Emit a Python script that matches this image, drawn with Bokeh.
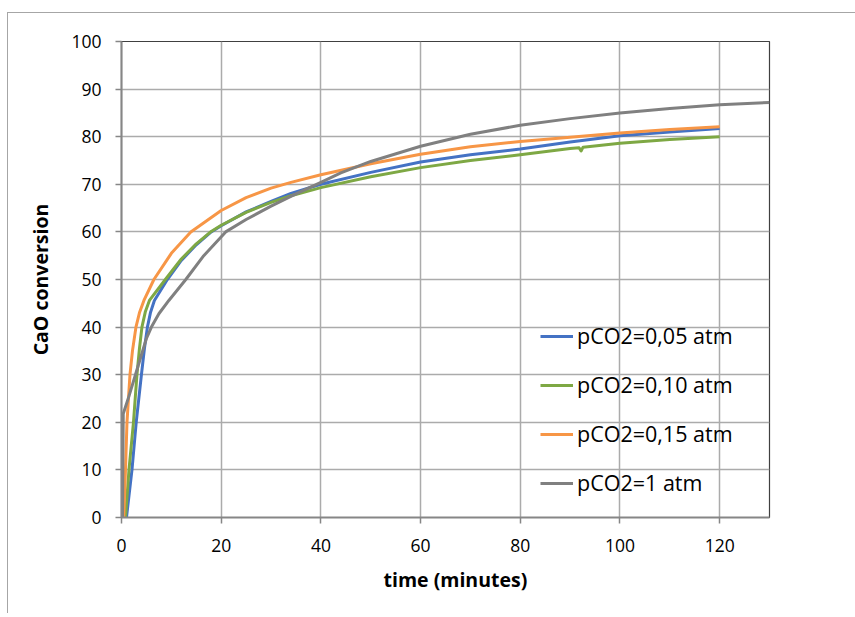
from bokeh.plotting import figure
from bokeh.models import Range1d, FixedTicker, Legend, LegendItem, Title, InlineStyleSheet
from bokeh.embed import file_html
from bokeh.resources import INLINE

# ---- data ----
series_names = ["pCO2=0,05 atm", "pCO2=0,10 atm", "pCO2=0,15 atm", "pCO2=1 atm"]
series_colors = ["#4472C4", "#7EA844", "#F79646", "#808080"]

t_005 = [1.0, 2.1, 2.95, 4.0, 4.6, 5.2, 5.8, 6.6, 9.2, 12, 15, 18, 20, 25, 30, 34, 40, 50, 60, 70, 80, 90, 100, 110, 120]
x_005 = [0, 10, 20, 30, 35.5, 40, 43, 45.6, 50, 54, 57.3, 60, 61.3, 64.2, 66.4, 68.1, 70.0, 72.5, 74.7, 76.2, 77.4, 78.9, 80.2, 81.0, 81.7]

t_010 = [0.8, 1.5, 2.4, 3.1, 3.6, 4.1, 4.8, 5.6, 8.8, 12, 15, 18, 20, 25, 30, 34, 40, 50, 60, 70, 80, 90, 91.8, 92.2, 92.6, 100, 110, 120]
x_010 = [0, 10, 20, 30, 35.5, 40, 43.3, 45.6, 50, 54.3, 57.5, 60.1, 61.4, 64.1, 66.2, 67.6, 69.3, 71.6, 73.5, 75.0, 76.2, 77.5, 77.7, 77.0, 77.8, 78.6, 79.4, 80.0]

t_015 = [0.45, 0.8, 1.1, 1.7, 2.2, 2.9, 3.6, 4.5, 6.5, 10, 13.9, 20, 25, 30, 34, 40, 50, 60, 70, 80, 90, 100, 110, 120]
x_015 = [0, 10, 20, 30, 35, 40, 43, 45.6, 50, 55.5, 60, 64.5, 67.2, 69.2, 70.4, 72.0, 74.3, 76.3, 77.9, 79.0, 79.9, 80.8, 81.5, 82.1]

t_1 = [0.2, 0.35, 1.5, 2.8, 4.3, 5.0, 6.0, 7.5, 9.5, 12.9, 16.5, 20.9, 25, 30, 35, 40, 44, 50, 60, 70, 80, 90, 100, 110, 120, 130]
x_1 = [0, 21.8, 25.5, 30, 35.2, 37.6, 40, 42.8, 45.6, 50, 55, 60, 62.6, 65.4, 68.0, 70.4, 72.4, 74.8, 78, 80.5, 82.4, 83.8, 85.0, 85.9, 86.7, 87.2]

x_ticks = [0, 20, 40, 60, 80, 100, 120]
y_ticks = [0, 10, 20, 30, 40, 50, 60, 70, 80, 90, 100]

FONT = "Open Sans"

p = figure(width=855, height=617, output_backend="svg", toolbar_location=None,
           x_range=Range1d(0, 130), y_range=Range1d(0, 100),
           min_border_left=121, min_border_right=86, min_border_top=41, min_border_bottom=100)
p.background_fill_color = "white"
p.border_fill_color = "white"
p.outline_line_color = "#404040"
p.outline_line_width = 1.2

# outer chart border (drawn as an overlay box on the figure element)
p.stylesheets = [InlineStyleSheet(css="""
:host { position: relative; }
:host::after {
  content: ""; position: absolute; left: 7px; top: 12px;
  width: 848px; height: 601px; box-sizing: border-box;
  border-left: 1px solid #a6a6a6; border-top: 1px solid #a6a6a6;
  border-right: none; border-bottom: none; pointer-events: none;
}
""")]

for ax in (p.xaxis[0], p.yaxis[0]):
    ax.axis_line_color = "#868686"
    ax.axis_line_width = 2
    ax.major_tick_line_color = "#868686"
    ax.major_tick_line_width = 1.5
    ax.major_tick_in = 0
    ax.major_tick_out = 6
    ax.minor_tick_line_color = None
    ax.major_label_text_font = FONT
    ax.major_label_text_font_size = "17.5px"
    ax.major_label_text_color = "#000000"

p.xaxis[0].ticker = FixedTicker(ticks=x_ticks)
p.yaxis[0].ticker = FixedTicker(ticks=y_ticks)
p.xaxis[0].major_label_standoff = 15
p.yaxis[0].major_label_standoff = 14

p.yaxis[0].axis_label = "CaO conversion"
p.yaxis[0].axis_label_text_font = FONT
p.yaxis[0].axis_label_text_font_style = "bold"
p.yaxis[0].axis_label_text_font_size = "19.5px"
p.yaxis[0].axis_label_text_color = "#000000"
p.yaxis[0].axis_label_standoff = 14

p.add_layout(Title(text="time (minutes)", align="left", offset=262, text_font=FONT,
                   text_font_style="bold", text_font_size="19.5px", text_color="#000000",
                   standoff=18), "below")

p.xgrid.grid_line_color = "#ababab"
p.xgrid.grid_line_width = 1.5
p.ygrid.grid_line_color = "#ababab"
p.ygrid.grid_line_width = 1.5

ts = [t_005, t_010, t_015, t_1]
xs = [x_005, x_010, x_015, x_1]
items = []
for name, col, t, x in zip(series_names, series_colors, ts, xs):
    r = p.line(t, x, line_color=col, line_width=3, line_join="round")
    items.append(LegendItem(label=name, renderers=[r]))

legend = Legend(items=items, location=(419, 20), orientation="vertical",
                glyph_width=33, glyph_height=24, label_height=24, spacing=20,
                label_standoff=4, padding=0, margin=0,
                label_text_font=FONT, label_text_font_size="21.5px", label_text_color="#000000",
                background_fill_alpha=0, border_line_alpha=0)
p.add_layout(legend, "center")

open("out.html", "w").write(file_html(p, INLINE))
